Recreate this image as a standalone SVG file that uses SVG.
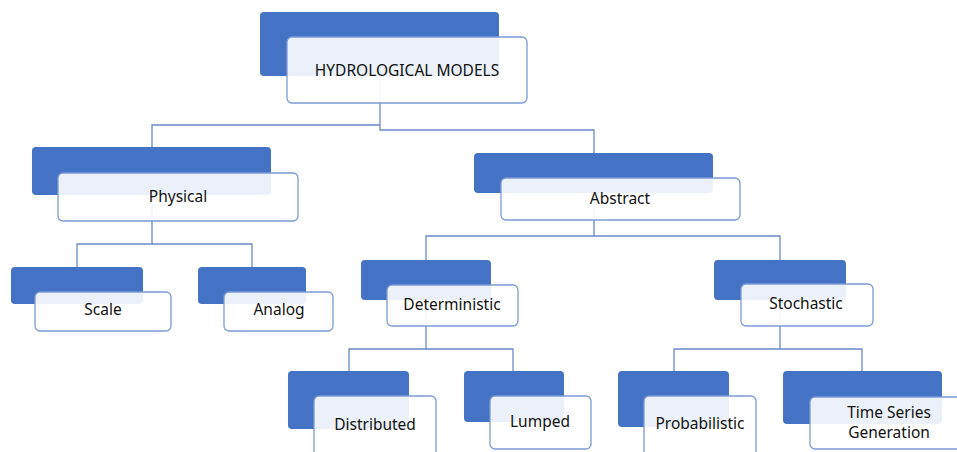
<svg xmlns="http://www.w3.org/2000/svg" width="957" height="452" viewBox="0 0 957 452">
<style>
.b{fill:#4472C4;}
.w{fill:#FFFFFF;fill-opacity:0.9;stroke:#7C9BD6;stroke-width:1.3;}
.t{font-family:"Noto Sans","Open Sans",sans-serif;font-size:15.5px;fill:#111111;text-anchor:middle;}
.c{fill:none;stroke:#6A89C9;stroke-width:1.3;}
</style>
<rect width="957" height="452" fill="#FFFFFF"/>
<g id="connectors">
<path class="c" d="M380,76 V130 H594 V153"/>
<path class="c" d="M380,125 H152 V147"/>
<path class="c" d="M152,195 V244 H77 V267"/>
<path class="c" d="M152,244 H252 V267"/>
<path class="c" d="M594,193 V236 H426 V260"/>
<path class="c" d="M594,236 H780 V260"/>
<path class="c" d="M426,300 V349 H349 V371"/>
<path class="c" d="M426,349 H513 V371"/>
<path class="c" d="M780,300 V349 H674 V371"/>
<path class="c" d="M780,349 H862 V371"/>
</g>
<g id="n-hydro">
<rect class="b" x="260" y="12" width="239" height="64" rx="4"/>
<rect class="w" x="287" y="37" width="240" height="66" rx="5"/>
<text class="t" x="407" y="76">HYDROLOGICAL MODELS</text>
</g>
<g id="n-physical">
<rect class="b" x="32" y="147" width="239" height="48" rx="4"/>
<rect class="w" x="58" y="173" width="240" height="48" rx="5"/>
<text class="t" x="178" y="202">Physical</text>
</g>
<g id="n-abstract">
<rect class="b" x="474" y="153" width="239" height="40" rx="4"/>
<rect class="w" x="501" y="178" width="239" height="42" rx="5"/>
<text class="t" x="620" y="204">Abstract</text>
</g>
<g id="n-scale">
<rect class="b" x="11" y="267" width="132" height="37" rx="4"/>
<rect class="w" x="35" y="292" width="136" height="39" rx="5"/>
<text class="t" x="103" y="315">Scale</text>
</g>
<g id="n-analog">
<rect class="b" x="198" y="267" width="108" height="37" rx="4"/>
<rect class="w" x="224" y="292" width="109" height="39" rx="5"/>
<text class="t" x="279" y="315">Analog</text>
</g>
<g id="n-deterministic">
<rect class="b" x="361" y="260" width="130" height="40" rx="4"/>
<rect class="w" x="387" y="285" width="131" height="41" rx="5"/>
<text class="t" x="452" y="310">Deterministic</text>
</g>
<g id="n-stochastic">
<rect class="b" x="714" y="260" width="132" height="40" rx="4"/>
<rect class="w" x="741" y="284" width="132" height="42" rx="5"/>
<text class="t" x="806" y="309">Stochastic</text>
</g>
<g id="n-distributed">
<rect class="b" x="288" y="371" width="121" height="58" rx="4"/>
<rect class="w" x="314" y="396" width="122" height="62" rx="5"/>
<text class="t" x="375" y="430">Distributed</text>
</g>
<g id="n-lumped">
<rect class="b" x="464" y="371" width="100" height="51" rx="4"/>
<rect class="w" x="490" y="396" width="101" height="53" rx="5"/>
<text class="t" x="540" y="427">Lumped</text>
</g>
<g id="n-probabilistic">
<rect class="b" x="618" y="371" width="111" height="56" rx="4"/>
<rect class="w" x="644" y="396" width="112" height="62" rx="5"/>
<text class="t" x="700" y="429">Probabilistic</text>
</g>
<g id="n-timeseries">
<rect class="b" x="783" y="371" width="159" height="53" rx="4"/>
<rect class="w" x="810" y="397" width="160" height="52" rx="5"/>
<text class="t" x="889" y="418">Time Series</text>
<text class="t" x="889" y="438">Generation</text>
</g>
</svg>
